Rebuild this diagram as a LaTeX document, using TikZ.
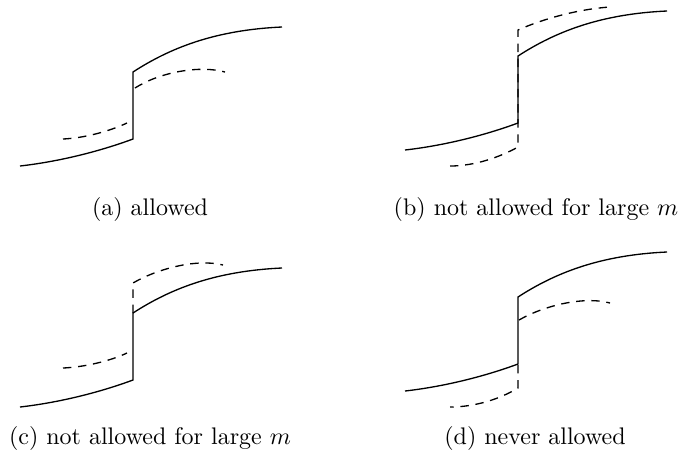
\documentclass[tikz,border=0pt]{standalone}
\tikzset{
  sol/.style={line width=0.55pt, line join=miter},
  dsh/.style={line width=0.55pt, dash pattern=on 3.5pt off 2.8pt},
  captxt/.style={anchor=base, inner sep=0pt}
}
\begin{document}
\begin{tikzpicture}[x=0.4167pt, y=-0.4167pt]
\useasboundingbox (0,0) rectangle (683,460);
% ---------- (a) ----------
\begin{scope}
  \draw[sol] (20,166) .. controls (55,162) and (95,153) .. (133,139) -- (133,72)
             .. controls (170,48) and (215,30) .. (282,27);
  \draw[dsh] (63,139) .. controls (85,138) and (110,131) .. (127,123);
  \draw[dsh] (135,88) .. controls (160,72) and (200,65) .. (225,72);
\end{scope}
\node[captxt] (capa) at (150,215) {(a) allowed};
% ---------- (b) ----------
\begin{scope}[shift={(385,-16)}]
  \draw[sol] (20,166) .. controls (55,162) and (95,153) .. (133,139) -- (133,72)
             .. controls (170,48) and (215,30) .. (282,27);
\end{scope}
\draw[dsh] (450,166) .. controls (475,166) and (500,157) .. (518,147) -- (518,30)
           .. controls (545,18) and (580,9) .. (610,7);
\node[captxt] (capb) at (536,215) {(b) not allowed for large $m$};
% ---------- (c) ----------
\begin{scope}[shift={(0,241)}]
  \draw[sol] (20,166) .. controls (55,162) and (95,153) .. (133,139) -- (133,72)
             .. controls (170,48) and (215,30) .. (282,27);
\end{scope}
\draw[dsh] (63,368) .. controls (85,367) and (110,361) .. (127,353);
\draw[dsh] (133,313) -- (133,283) .. controls (155,270) and (195,258) .. (223,265);
\node[captxt] (capc) at (150,444) {(c) not allowed for large $m$};
% ---------- (d) ----------
\begin{scope}[shift={(385,225)}]
  \draw[sol] (20,166) .. controls (55,162) and (95,153) .. (133,139) -- (133,72)
             .. controls (170,48) and (215,30) .. (282,27);
\end{scope}
\draw[dsh] (518,365) -- (518,388) .. controls (500,399) and (475,407) .. (450,407);
\draw[dsh] (519,320) .. controls (545,305) and (585,296) .. (610,303);
\node[captxt] (capd) at (535,444) {(d) never allowed};
\end{tikzpicture}
\end{document}
